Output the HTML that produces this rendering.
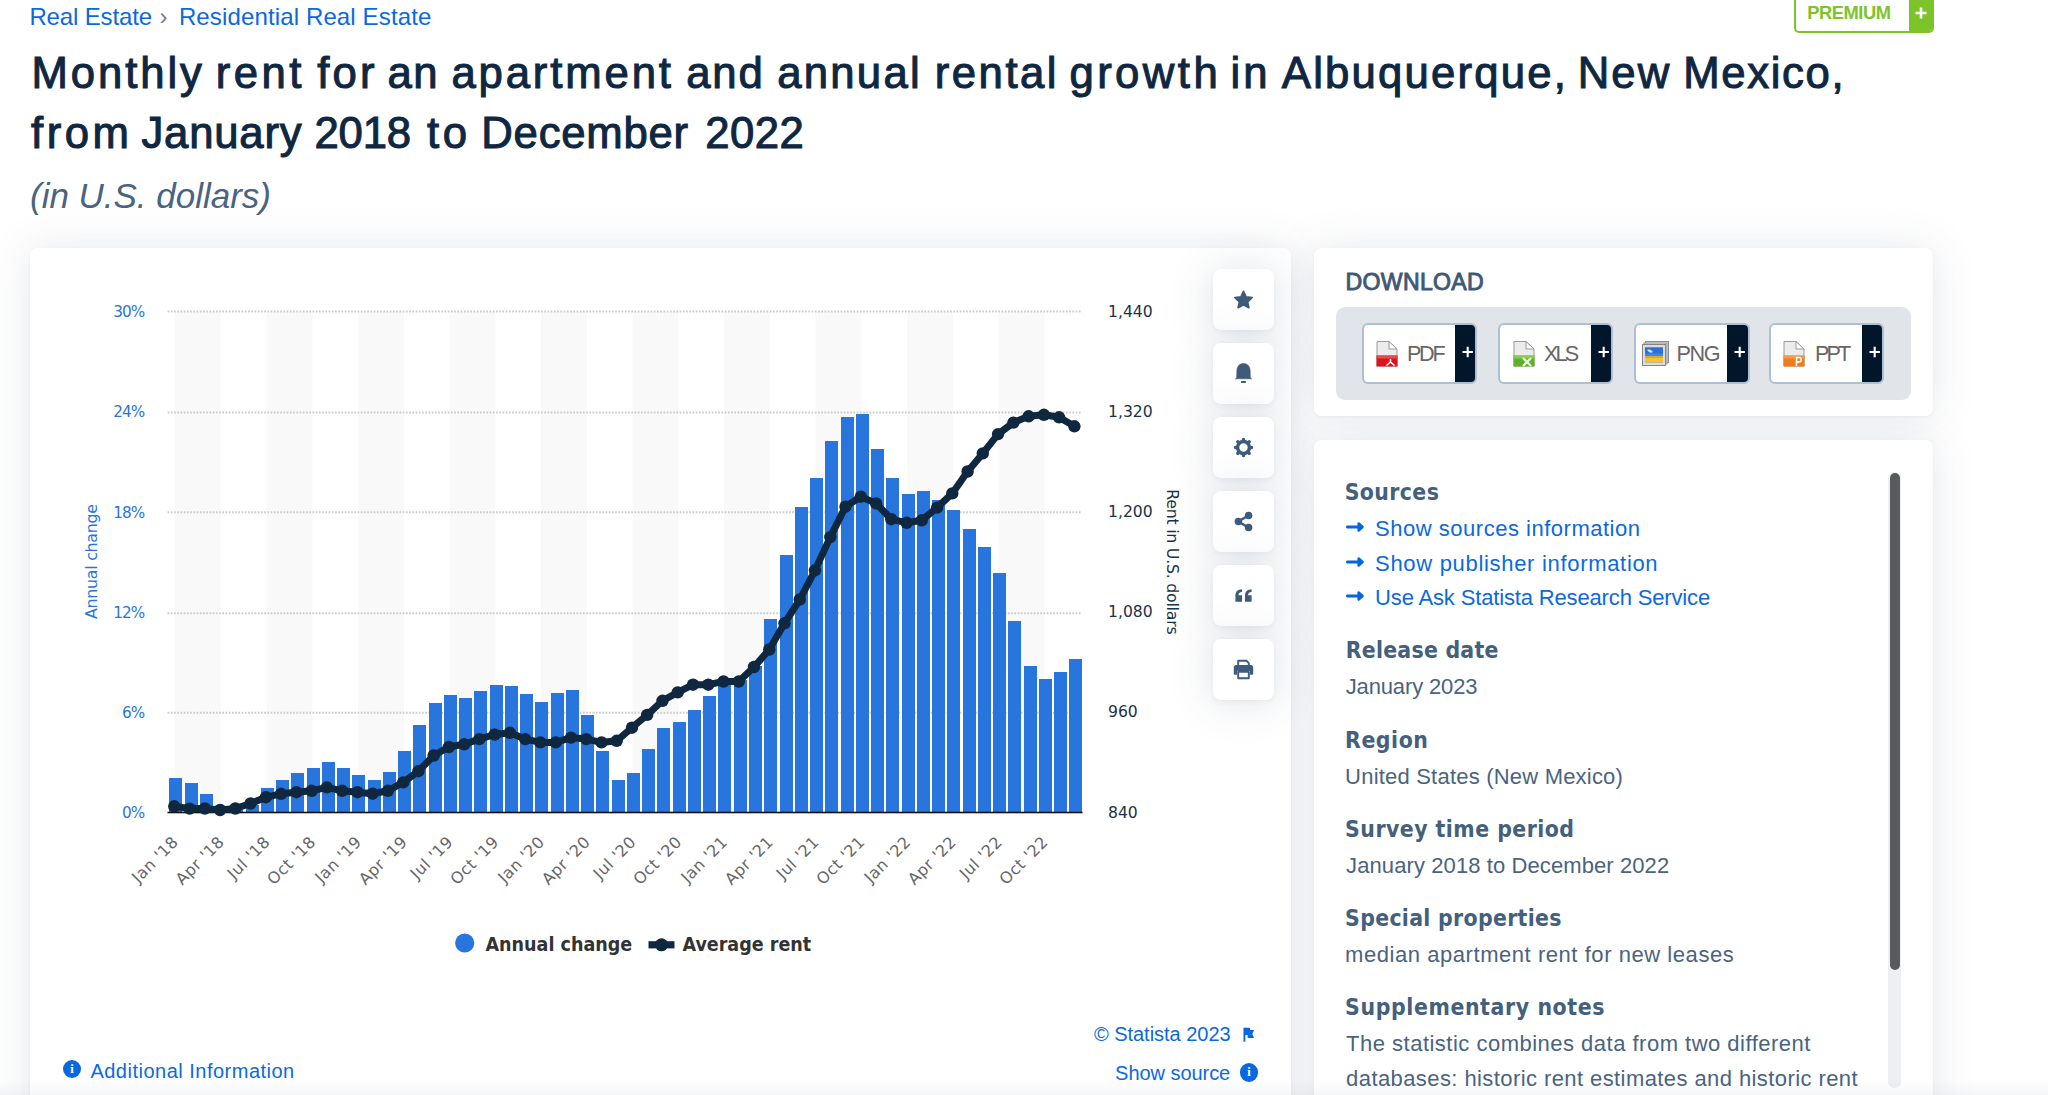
<!DOCTYPE html>
<html lang="en"><head><meta charset="utf-8"><title>Monthly rent for an apartment and annual rental growth in Albuquerque, New Mexico</title>
<style>
*{box-sizing:border-box}
html,body{margin:0;padding:0}
body{width:2048px;height:1095px;overflow:hidden;background:#fff;position:relative;font-family:'Liberation Sans',Arial,sans-serif}
.tw{margin:0;font-weight:400}
.t{position:absolute;margin:0;white-space:nowrap;line-height:1;font-weight:400;text-decoration:none}
.card{position:absolute;background:#fff;border-radius:8px}
.card.sh{box-shadow:0 0 44px rgba(60,80,110,.13),0 1px 3px rgba(60,80,110,.05)}
.chart{position:absolute;left:0;top:0;pointer-events:none}
.premium{position:absolute;left:1793.5px;top:-6px;width:140px;height:38.6px;border:2px solid #7dc42a;border-radius:5px;background:#fff;overflow:hidden}
.premium .ptxt{position:absolute;left:12.2px;top:8.8px;font-size:17.6px;line-height:1;font-weight:700;color:#7dc42a;letter-spacing:.35px}
.premium .pplus{position:absolute;right:-2px;top:4px;width:24.4px;height:33px;background:#7dc42a}
.tb{position:absolute;width:61px;height:61px;border:0;padding:0;border-radius:8px;background:#fff;box-shadow:0 2px 44px rgba(60,80,110,.17),0 2px 5px rgba(60,80,110,.06)}
.tb svg{display:block}
.info-i{position:absolute;width:18.4px;height:18.4px;border-radius:50%;background:#0868e0;color:#fff;font-family:'Liberation Serif',serif;font-weight:700;font-size:12.5px;line-height:19.4px;text-align:center}
.dlpanel{position:absolute;left:1336px;top:306.8px;width:575px;height:93px;border-radius:9px;background:#e1e5e9}
.dlbtn{position:absolute;top:323px;height:60.5px;border:2px solid #adbfd2;border-radius:6px;background:#fff;overflow:hidden}
.dlbtn .ic{position:absolute;top:15px}
.dlbtn .ic svg{display:block}
.dlbtn .lbl{position:absolute;top:20.5px;font-size:20.6px;line-height:1;color:#666}
.dlbtn .plus{position:absolute;right:-1px;top:0;width:21.2px;height:57px;background:#02162b}
.dlbtn .plus svg{display:block}
.strack{position:absolute;left:1888.4px;top:472.4px;width:12.2px;height:615.6px;border-radius:6px;background:#edf0f3}
.sthumb{position:absolute;left:1890px;top:473.4px;width:9.7px;height:496.5px;border-radius:5px;background:#585b5b}
.fade{position:absolute;left:0;top:1080px;width:2048px;height:15px;background:linear-gradient(to bottom,rgba(120,135,155,0),rgba(120,135,155,.075))}
</style></head>
<body>
<nav class="crumbs">
<a class="t " style="left:29.4px;top:5.18px;font-size:24px;color:#0b69e0;letter-spacing:-0.14px;">Real Estate</a>
<span class="t " style="left:159.5px;top:4.68px;font-size:24px;color:#6b7f94;">›</span>
<a class="t " style="left:178.9px;top:5.18px;font-size:24px;color:#0b69e0;letter-spacing:0.135px;">Residential Real Estate</a>
</nav>
<div class="premium"><span class="pplus"><svg width="24" height="31" viewBox="0 0 24 31"><path d="M12 7.5v11M6.5 13h11" stroke="#fff" stroke-width="2.6" fill="none"/></svg></span></div>
<span class="t " style="left:1807.2px;top:3.91px;font-size:18.3px;color:#7dc42a;font-weight:700;letter-spacing:-0.433px;">PREMIUM</span>
<h1 class="tw"> <span id="ta-0" class="t" style="left:31.4px;top:50.91px;font-size:43.7px;color:#0f2741;letter-spacing:2.933px;-webkit-text-stroke:1.05px #0f2741;">Monthly</span> <span id="ta-1" class="t" style="left:215.8px;top:50.91px;font-size:43.7px;color:#0f2741;letter-spacing:3.467px;-webkit-text-stroke:1.05px #0f2741;">rent</span> <span id="ta-2" class="t" style="left:317.2px;top:50.91px;font-size:43.7px;color:#0f2741;letter-spacing:3.2px;-webkit-text-stroke:1.05px #0f2741;">for</span> <span id="ta-3" class="t" style="left:387.4px;top:50.91px;font-size:43.7px;color:#0f2741;letter-spacing:1.6px;-webkit-text-stroke:1.05px #0f2741;">an</span> <span id="ta-4" class="t" style="left:451.4px;top:50.91px;font-size:43.7px;color:#0f2741;letter-spacing:2.862px;-webkit-text-stroke:1.05px #0f2741;">apartment</span> <span id="ta-5" class="t" style="left:686.2px;top:50.91px;font-size:43.7px;color:#0f2741;letter-spacing:1.85px;-webkit-text-stroke:1.05px #0f2741;">and</span> <span id="ta-6" class="t" style="left:777.2px;top:50.91px;font-size:43.7px;color:#0f2741;letter-spacing:2.26px;-webkit-text-stroke:1.05px #0f2741;">annual</span> <span id="ta-7" class="t" style="left:934.7px;top:50.91px;font-size:43.7px;color:#0f2741;letter-spacing:2.52px;-webkit-text-stroke:1.05px #0f2741;">rental</span> <span id="ta-8" class="t" style="left:1069.4px;top:50.91px;font-size:43.7px;color:#0f2741;letter-spacing:3.44px;-webkit-text-stroke:1.05px #0f2741;">growth</span> <span id="ta-9" class="t" style="left:1230.5px;top:50.91px;font-size:43.7px;color:#0f2741;letter-spacing:3.1px;-webkit-text-stroke:1.05px #0f2741;">in</span> <span id="ta-10" class="t" style="left:1281.8px;top:50.91px;font-size:43.7px;color:#0f2741;letter-spacing:2.191px;-webkit-text-stroke:1.05px #0f2741;">Albuquerque,</span> <span id="ta-11" class="t" style="left:1577.7px;top:50.91px;font-size:43.7px;color:#0f2741;letter-spacing:2.1px;-webkit-text-stroke:1.05px #0f2741;">New</span> <span id="ta-12" class="t" style="left:1683.2px;top:50.91px;font-size:43.7px;color:#0f2741;letter-spacing:1.65px;-webkit-text-stroke:1.05px #0f2741;">Mexico,</span> </h1>
<h1 class="tw"> <span id="tb-0" class="t" style="left:31px;top:110.71px;font-size:43.7px;color:#0f2741;letter-spacing:3.533px;-webkit-text-stroke:1.05px #0f2741;">from</span> <span id="tb-1" class="t" style="left:141.4px;top:110.71px;font-size:43.7px;color:#0f2741;letter-spacing:0.8px;-webkit-text-stroke:1.05px #0f2741;">January</span> <span id="tb-2" class="t" style="left:314.6px;top:110.71px;font-size:43.7px;color:#0f2741;letter-spacing:-0.267px;-webkit-text-stroke:1.05px #0f2741;">2018</span> <span id="tb-3" class="t" style="left:427px;top:110.71px;font-size:43.7px;color:#0f2741;letter-spacing:3.5px;-webkit-text-stroke:1.05px #0f2741;">to</span> <span id="tb-4" class="t" style="left:481.3px;top:110.71px;font-size:43.7px;color:#0f2741;letter-spacing:0.757px;-webkit-text-stroke:1.05px #0f2741;">December</span> <span id="tb-5" class="t" style="left:705.3px;top:110.71px;font-size:43.7px;color:#0f2741;letter-spacing:0.4px;-webkit-text-stroke:1.05px #0f2741;">2022</span> </h1>
<h2 class="t " style="left:30px;top:178.37px;font-size:35px;color:#4a6380;letter-spacing:-0.013px;font-style:italic;">(in U.S. dollars)</h2>
<div class="card sh" style="left:29.5px;top:248px;width:1261.8px;height:900px"></div>
<div class="card sh" style="left:1314px;top:248px;width:619.2px;height:168px"></div>
<div class="card sh" style="left:1314px;top:440.2px;width:619.2px;height:720px"></div>
<section class="card" id="chartcard" style="left:29.5px;top:248px;width:1261.8px;height:900px"></section>
<section class="card" id="dlcard" style="left:1314px;top:248px;width:619.2px;height:168px"></section>
<section class="card" id="infocard" style="left:1314px;top:440.2px;width:619.2px;height:720px"></section>
<button class="tb" style="left:1212.5px;top:269px"><svg width="61" height="61" viewBox="-30.5 -30.5 61 61" fill="#3f5b7a"><path d="M0,-8.1 L2.53,-2.58 L8.56,-1.88 L4.09,2.23 L5.29,8.18 L0,5.2 L-5.29,8.18 L-4.09,2.23 L-8.56,-1.88 L-2.53,-2.58Z" stroke="#3f5b7a" stroke-width="1.8" stroke-linejoin="round"/></svg></button>
<button class="tb" style="left:1212.5px;top:343px"><svg width="61" height="61" viewBox="-30.5 -30.5 61 61" fill="#3f5b7a"><path d="M-8.1,5.3 C-7.3,5.3 -6.9,4.3 -6.8,2.8 L-6.6,-3 C-6.5,-7.5 -3.6,-9.9 0,-9.9 C3.6,-9.9 6.5,-7.5 6.6,-3 L6.8,2.8 C6.9,4.3 7.3,5.3 8.1,5.3 Z" stroke="#3f5b7a" stroke-width="0.6" stroke-linejoin="round"/><rect x="-2.6" y="7.6" width="5.2" height="1.9" rx="0.9"/></svg></button>
<button class="tb" style="left:1212.5px;top:417px"><svg width="61" height="61" viewBox="-30.5 -30.5 61 61" fill="#3f5b7a"><circle cx="0" cy="0" r="5.95" fill="none" stroke="#3f5b7a" stroke-width="3.5"/><path d="M0,-7 L0,-8 M4.95,-4.95 L5.66,-5.66 M7,0 L8,0 M4.95,4.95 L5.66,5.66 M0,7 L0,8 M-4.95,4.95 L-5.66,5.66 M-7,0 L-8,0 M-4.95,-4.95 L-5.66,-5.66 " stroke="#3f5b7a" stroke-width="3.5" stroke-linecap="round" fill="none"/></svg></button>
<button class="tb" style="left:1212.5px;top:491px"><svg width="61" height="61" viewBox="-30.5 -30.5 61 61" fill="#3f5b7a"><path d="M5.1,-6.1 L-5.1,0 L5.1,6.1" stroke="#3f5b7a" stroke-width="2.5" fill="none" stroke-linejoin="round"/><circle cx="-5.1" cy="0" r="3.75"/><circle cx="5.1" cy="-6.1" r="3.75"/><circle cx="5.1" cy="6.1" r="3.75"/></svg></button>
<button class="tb" style="left:1212.5px;top:565px"><svg width="61" height="61" viewBox="-30.5 -30.5 61 61" fill="#3f5b7a"><path d="M-8.1,6.2 h6.6 v-6.4 h-3.5 c0,-2.1 1,-3.2 3.5,-3.3 v-2.7 c-4.3,0.1 -6.6,2.4 -6.6,6.3z"/><path d="M1.5,6.2 h6.6 v-6.4 h-3.5 c0,-2.1 1,-3.2 3.5,-3.3 v-2.7 c-4.3,0.1 -6.6,2.4 -6.6,6.3z"/></svg></button>
<button class="tb" style="left:1212.5px;top:639px"><svg width="61" height="61" viewBox="-30.5 -30.5 61 61" fill="#3f5b7a"><path d="M-5.3,-4 v-4.8 h8.2 l2.4,2.4 v2.4" fill="none" stroke="#3f5b7a" stroke-width="1.9" stroke-linejoin="round"/><path d="M-7.2,-4.6 h14.4 a2.5,2.5 0 0 1 2.5,2.5 v6.3 a1,1 0 0 1 -1,1 h-2.3 v-3.7 h-12.8 v3.7 h-2.3 a1,1 0 0 1 -1,-1 v-6.3 a2.5,2.5 0 0 1 2.5,-2.5z"/><path d="M-5.3,2.4 h10.6 v6.4 h-10.6z" fill="none" stroke="#3f5b7a" stroke-width="1.9" stroke-linejoin="round"/></svg></button>
<svg class="chart" width="2048" height="1095" viewBox="0 0 2048 1095">
<rect x="174.9" y="312" width="45.8" height="500" fill="#f9f9f9"/>
<rect x="266.5" y="312" width="45.8" height="500" fill="#f9f9f9"/>
<rect x="358" y="312" width="45.8" height="500" fill="#f9f9f9"/>
<rect x="449.5" y="312" width="45.8" height="500" fill="#f9f9f9"/>
<rect x="541" y="312" width="45.8" height="500" fill="#f9f9f9"/>
<rect x="632.6" y="312" width="45.8" height="500" fill="#f9f9f9"/>
<rect x="724.1" y="312" width="45.8" height="500" fill="#f9f9f9"/>
<rect x="815.6" y="312" width="45.8" height="500" fill="#f9f9f9"/>
<rect x="907.2" y="312" width="45.8" height="500" fill="#f9f9f9"/>
<rect x="998.7" y="312" width="45.8" height="500" fill="#f9f9f9"/>
<line x1="167.6" x2="1082" y1="311.5" y2="311.5" stroke="#cbcbcb" stroke-width="2" stroke-dasharray="1.7 1.52"/>
<line x1="167.6" x2="1082" y1="412.5" y2="412.5" stroke="#cbcbcb" stroke-width="2" stroke-dasharray="1.7 1.52"/>
<line x1="167.6" x2="1082" y1="512.2" y2="512.2" stroke="#cbcbcb" stroke-width="2" stroke-dasharray="1.7 1.52"/>
<line x1="167.6" x2="1082" y1="613.3" y2="613.3" stroke="#cbcbcb" stroke-width="2" stroke-dasharray="1.7 1.52"/>
<line x1="167.6" x2="1082" y1="712.8" y2="712.8" stroke="#cbcbcb" stroke-width="2" stroke-dasharray="1.7 1.52"/>
<g fill="#2875dd" shape-rendering="crispEdges">
<rect x="169" y="778" width="13" height="34"/>
<rect x="185" y="783" width="13" height="29"/>
<rect x="200" y="794" width="13" height="18"/>
<rect x="230" y="810" width="13" height="2"/>
<rect x="246" y="805" width="13" height="7"/>
<rect x="261" y="788" width="13" height="24"/>
<rect x="276" y="780" width="13" height="32"/>
<rect x="291" y="773" width="13" height="39"/>
<rect x="307" y="768" width="13" height="44"/>
<rect x="322" y="762" width="13" height="50"/>
<rect x="337" y="768" width="13" height="44"/>
<rect x="352" y="775" width="13" height="37"/>
<rect x="368" y="780" width="13" height="32"/>
<rect x="383" y="772" width="13" height="40"/>
<rect x="398" y="751" width="13" height="61"/>
<rect x="413" y="725" width="13" height="87"/>
<rect x="429" y="703" width="13" height="109"/>
<rect x="444" y="695" width="13" height="117"/>
<rect x="459" y="698" width="13" height="114"/>
<rect x="474" y="691" width="13" height="121"/>
<rect x="490" y="685" width="13" height="127"/>
<rect x="505" y="686" width="13" height="126"/>
<rect x="520" y="694" width="13" height="118"/>
<rect x="535" y="702" width="13" height="110"/>
<rect x="551" y="693" width="13" height="119"/>
<rect x="566" y="690" width="13" height="122"/>
<rect x="581" y="715" width="13" height="97"/>
<rect x="596" y="751" width="13" height="61"/>
<rect x="612" y="780" width="13" height="32"/>
<rect x="627" y="773" width="13" height="39"/>
<rect x="642" y="749" width="13" height="63"/>
<rect x="657" y="728" width="13" height="84"/>
<rect x="673" y="722" width="13" height="90"/>
<rect x="688" y="710" width="13" height="102"/>
<rect x="703" y="696" width="13" height="116"/>
<rect x="718" y="682" width="13" height="130"/>
<rect x="734" y="680" width="13" height="132"/>
<rect x="749" y="666" width="13" height="146"/>
<rect x="764" y="619" width="13" height="193"/>
<rect x="780" y="555" width="13" height="257"/>
<rect x="795" y="507" width="13" height="305"/>
<rect x="810" y="478" width="13" height="334"/>
<rect x="825" y="441" width="13" height="371"/>
<rect x="841" y="417" width="13" height="395"/>
<rect x="856" y="414" width="13" height="398"/>
<rect x="871" y="449" width="13" height="363"/>
<rect x="886" y="478" width="13" height="334"/>
<rect x="902" y="494" width="13" height="318"/>
<rect x="917" y="491" width="13" height="321"/>
<rect x="932" y="500" width="13" height="312"/>
<rect x="947" y="510" width="13" height="302"/>
<rect x="963" y="529" width="13" height="283"/>
<rect x="978" y="547" width="13" height="265"/>
<rect x="993" y="573" width="13" height="239"/>
<rect x="1008" y="621" width="13" height="191"/>
<rect x="1024" y="666" width="13" height="146"/>
<rect x="1039" y="679" width="13" height="133"/>
<rect x="1054" y="672" width="13" height="140"/>
<rect x="1069" y="659" width="13" height="153"/>
</g>
<rect x="167.5" y="811.7" width="915" height="1.6" fill="#111"/>
<polyline points="174.3,806.3 189.6,808.6 204.8,808.5 220.1,810 235.3,808.5 250.6,803.5 265.9,797.2 281.1,793.8 296.4,792.2 311.6,790.8 326.9,787.4 342.1,790.8 357.4,792.2 372.6,793.7 387.9,790.8 403.2,782.4 418.4,771.2 433.7,755.5 448.9,747 464.2,744.3 479.4,739.1 494.7,734.5 509.9,732.8 525.2,739.1 540.4,742.4 555.7,742.4 571,737.6 586.2,739.1 601.5,742.4 616.7,740.8 632,727.7 647.2,714.9 662.5,700.8 677.7,692.4 693,684.7 708.3,684.7 723.5,681.5 738.8,681.5 754,667 769.3,649.5 784.5,623.3 799.8,599.5 815,570.3 830.3,537.1 845.5,506.6 860.8,496.7 876.1,503.4 891.3,519.2 906.6,522.8 921.8,520.3 937.1,507.6 952.3,493.4 967.6,471.5 982.8,453.4 998.1,434.1 1013.4,422.6 1028.6,416.3 1043.9,414.8 1059.1,417.3 1074.4,426.3" fill="none" stroke="#0f283f" stroke-width="7" stroke-linejoin="round" stroke-linecap="round"/>
<g fill="#0f283f">
<circle cx="174.3" cy="806.3" r="6.2"/>
<circle cx="189.6" cy="808.6" r="6.2"/>
<circle cx="204.8" cy="808.5" r="6.2"/>
<circle cx="220.1" cy="810" r="6.2"/>
<circle cx="235.3" cy="808.5" r="6.2"/>
<circle cx="250.6" cy="803.5" r="6.2"/>
<circle cx="265.9" cy="797.2" r="6.2"/>
<circle cx="281.1" cy="793.8" r="6.2"/>
<circle cx="296.4" cy="792.2" r="6.2"/>
<circle cx="311.6" cy="790.8" r="6.2"/>
<circle cx="326.9" cy="787.4" r="6.2"/>
<circle cx="342.1" cy="790.8" r="6.2"/>
<circle cx="357.4" cy="792.2" r="6.2"/>
<circle cx="372.6" cy="793.7" r="6.2"/>
<circle cx="387.9" cy="790.8" r="6.2"/>
<circle cx="403.2" cy="782.4" r="6.2"/>
<circle cx="418.4" cy="771.2" r="6.2"/>
<circle cx="433.7" cy="755.5" r="6.2"/>
<circle cx="448.9" cy="747" r="6.2"/>
<circle cx="464.2" cy="744.3" r="6.2"/>
<circle cx="479.4" cy="739.1" r="6.2"/>
<circle cx="494.7" cy="734.5" r="6.2"/>
<circle cx="509.9" cy="732.8" r="6.2"/>
<circle cx="525.2" cy="739.1" r="6.2"/>
<circle cx="540.4" cy="742.4" r="6.2"/>
<circle cx="555.7" cy="742.4" r="6.2"/>
<circle cx="571" cy="737.6" r="6.2"/>
<circle cx="586.2" cy="739.1" r="6.2"/>
<circle cx="601.5" cy="742.4" r="6.2"/>
<circle cx="616.7" cy="740.8" r="6.2"/>
<circle cx="632" cy="727.7" r="6.2"/>
<circle cx="647.2" cy="714.9" r="6.2"/>
<circle cx="662.5" cy="700.8" r="6.2"/>
<circle cx="677.7" cy="692.4" r="6.2"/>
<circle cx="693" cy="684.7" r="6.2"/>
<circle cx="708.3" cy="684.7" r="6.2"/>
<circle cx="723.5" cy="681.5" r="6.2"/>
<circle cx="738.8" cy="681.5" r="6.2"/>
<circle cx="754" cy="667" r="6.2"/>
<circle cx="769.3" cy="649.5" r="6.2"/>
<circle cx="784.5" cy="623.3" r="6.2"/>
<circle cx="799.8" cy="599.5" r="6.2"/>
<circle cx="815" cy="570.3" r="6.2"/>
<circle cx="830.3" cy="537.1" r="6.2"/>
<circle cx="845.5" cy="506.6" r="6.2"/>
<circle cx="860.8" cy="496.7" r="6.2"/>
<circle cx="876.1" cy="503.4" r="6.2"/>
<circle cx="891.3" cy="519.2" r="6.2"/>
<circle cx="906.6" cy="522.8" r="6.2"/>
<circle cx="921.8" cy="520.3" r="6.2"/>
<circle cx="937.1" cy="507.6" r="6.2"/>
<circle cx="952.3" cy="493.4" r="6.2"/>
<circle cx="967.6" cy="471.5" r="6.2"/>
<circle cx="982.8" cy="453.4" r="6.2"/>
<circle cx="998.1" cy="434.1" r="6.2"/>
<circle cx="1013.4" cy="422.6" r="6.2"/>
<circle cx="1028.6" cy="416.3" r="6.2"/>
<circle cx="1043.9" cy="414.8" r="6.2"/>
<circle cx="1059.1" cy="417.3" r="6.2"/>
<circle cx="1074.4" cy="426.3" r="6.2"/>
</g>
<text x="144.2" y="317.2" text-anchor="end" fill="#2875dd" font-family="DejaVu Sans, Liberation Sans, sans-serif" font-size="15.2" letter-spacing="-0.9">30%</text>
<text x="144.2" y="417.4" text-anchor="end" fill="#2875dd" font-family="DejaVu Sans, Liberation Sans, sans-serif" font-size="15.2" letter-spacing="-0.9">24%</text>
<text x="144.2" y="517.6" text-anchor="end" fill="#2875dd" font-family="DejaVu Sans, Liberation Sans, sans-serif" font-size="15.2" letter-spacing="-0.9">18%</text>
<text x="144.2" y="617.8" text-anchor="end" fill="#2875dd" font-family="DejaVu Sans, Liberation Sans, sans-serif" font-size="15.2" letter-spacing="-0.9">12%</text>
<text x="144.2" y="718" text-anchor="end" fill="#2875dd" font-family="DejaVu Sans, Liberation Sans, sans-serif" font-size="15.2" letter-spacing="-0.9">6%</text>
<text x="144.2" y="818.2" text-anchor="end" fill="#2875dd" font-family="DejaVu Sans, Liberation Sans, sans-serif" font-size="15.2" letter-spacing="-0.9">0%</text>
<text x="1108" y="316.6" fill="#1b3148" font-family="DejaVu Sans, Liberation Sans, sans-serif" font-size="15.6" letter-spacing="0">1,440</text>
<text x="1108" y="416.8" fill="#1b3148" font-family="DejaVu Sans, Liberation Sans, sans-serif" font-size="15.6" letter-spacing="0">1,320</text>
<text x="1108" y="517" fill="#1b3148" font-family="DejaVu Sans, Liberation Sans, sans-serif" font-size="15.6" letter-spacing="0">1,200</text>
<text x="1108" y="617.2" fill="#1b3148" font-family="DejaVu Sans, Liberation Sans, sans-serif" font-size="15.6" letter-spacing="0">1,080</text>
<text x="1108" y="717.4" fill="#1b3148" font-family="DejaVu Sans, Liberation Sans, sans-serif" font-size="15.6" letter-spacing="0">960</text>
<text x="1108" y="817.6" fill="#1b3148" font-family="DejaVu Sans, Liberation Sans, sans-serif" font-size="15.6" letter-spacing="0">840</text>
<text transform="translate(97.4,561.6) rotate(-90)" text-anchor="middle" fill="#2875dd" font-family="DejaVu Sans, Liberation Sans, sans-serif" font-size="15.8" letter-spacing="-0.25">Annual change</text>
<text transform="translate(1166.5,561.8) rotate(90)" text-anchor="middle" fill="#1b3148" font-family="DejaVu Sans, Liberation Sans, sans-serif" font-size="15.8" letter-spacing="-0.25">Rent in U.S. dollars</text>
<text transform="translate(179.4,842.9) rotate(-45)" text-anchor="end" fill="#666" font-family="DejaVu Sans, Liberation Sans, sans-serif" font-size="16" letter-spacing="0.45">Jan &#39;18</text>
<text transform="translate(225.2,842.9) rotate(-45)" text-anchor="end" fill="#666" font-family="DejaVu Sans, Liberation Sans, sans-serif" font-size="16" letter-spacing="0.45">Apr &#39;18</text>
<text transform="translate(271,842.9) rotate(-45)" text-anchor="end" fill="#666" font-family="DejaVu Sans, Liberation Sans, sans-serif" font-size="16" letter-spacing="0.45">Jul &#39;18</text>
<text transform="translate(316.7,842.9) rotate(-45)" text-anchor="end" fill="#666" font-family="DejaVu Sans, Liberation Sans, sans-serif" font-size="16" letter-spacing="0.45">Oct &#39;18</text>
<text transform="translate(362.5,842.9) rotate(-45)" text-anchor="end" fill="#666" font-family="DejaVu Sans, Liberation Sans, sans-serif" font-size="16" letter-spacing="0.45">Jan &#39;19</text>
<text transform="translate(408.3,842.9) rotate(-45)" text-anchor="end" fill="#666" font-family="DejaVu Sans, Liberation Sans, sans-serif" font-size="16" letter-spacing="0.45">Apr &#39;19</text>
<text transform="translate(454,842.9) rotate(-45)" text-anchor="end" fill="#666" font-family="DejaVu Sans, Liberation Sans, sans-serif" font-size="16" letter-spacing="0.45">Jul &#39;19</text>
<text transform="translate(499.8,842.9) rotate(-45)" text-anchor="end" fill="#666" font-family="DejaVu Sans, Liberation Sans, sans-serif" font-size="16" letter-spacing="0.45">Oct &#39;19</text>
<text transform="translate(545.5,842.9) rotate(-45)" text-anchor="end" fill="#666" font-family="DejaVu Sans, Liberation Sans, sans-serif" font-size="16" letter-spacing="0.45">Jan &#39;20</text>
<text transform="translate(591.3,842.9) rotate(-45)" text-anchor="end" fill="#666" font-family="DejaVu Sans, Liberation Sans, sans-serif" font-size="16" letter-spacing="0.45">Apr &#39;20</text>
<text transform="translate(637.1,842.9) rotate(-45)" text-anchor="end" fill="#666" font-family="DejaVu Sans, Liberation Sans, sans-serif" font-size="16" letter-spacing="0.45">Jul &#39;20</text>
<text transform="translate(682.8,842.9) rotate(-45)" text-anchor="end" fill="#666" font-family="DejaVu Sans, Liberation Sans, sans-serif" font-size="16" letter-spacing="0.45">Oct &#39;20</text>
<text transform="translate(728.6,842.9) rotate(-45)" text-anchor="end" fill="#666" font-family="DejaVu Sans, Liberation Sans, sans-serif" font-size="16" letter-spacing="0.45">Jan &#39;21</text>
<text transform="translate(774.4,842.9) rotate(-45)" text-anchor="end" fill="#666" font-family="DejaVu Sans, Liberation Sans, sans-serif" font-size="16" letter-spacing="0.45">Apr &#39;21</text>
<text transform="translate(820.1,842.9) rotate(-45)" text-anchor="end" fill="#666" font-family="DejaVu Sans, Liberation Sans, sans-serif" font-size="16" letter-spacing="0.45">Jul &#39;21</text>
<text transform="translate(865.9,842.9) rotate(-45)" text-anchor="end" fill="#666" font-family="DejaVu Sans, Liberation Sans, sans-serif" font-size="16" letter-spacing="0.45">Oct &#39;21</text>
<text transform="translate(911.7,842.9) rotate(-45)" text-anchor="end" fill="#666" font-family="DejaVu Sans, Liberation Sans, sans-serif" font-size="16" letter-spacing="0.45">Jan &#39;22</text>
<text transform="translate(957.4,842.9) rotate(-45)" text-anchor="end" fill="#666" font-family="DejaVu Sans, Liberation Sans, sans-serif" font-size="16" letter-spacing="0.45">Apr &#39;22</text>
<text transform="translate(1003.2,842.9) rotate(-45)" text-anchor="end" fill="#666" font-family="DejaVu Sans, Liberation Sans, sans-serif" font-size="16" letter-spacing="0.45">Jul &#39;22</text>
<text transform="translate(1049,842.9) rotate(-45)" text-anchor="end" fill="#666" font-family="DejaVu Sans, Liberation Sans, sans-serif" font-size="16" letter-spacing="0.45">Oct &#39;22</text>
<circle cx="464.7" cy="943" r="9.6" fill="#2875dd"/>
<text x="485.5" y="951" font-family="DejaVu Sans Condensed, DejaVu Sans, Liberation Sans, sans-serif" font-size="19.5" font-weight="700" fill="#333">Annual change</text>
<line x1="648.5" x2="674.5" y1="944.8" y2="944.8" stroke="#0f283f" stroke-width="7.2"/>
<circle cx="661.5" cy="944.8" r="6.5" fill="#0f283f"/>
<text x="682.5" y="951" font-family="DejaVu Sans Condensed, DejaVu Sans, Liberation Sans, sans-serif" font-size="19.5" font-weight="700" fill="#333">Average rent</text>
</svg>
<span class="info-i" style="left:62.9px;top:1060px">i</span>
<a class="t " style="left:90.4px;top:1061.07px;font-size:20px;color:#0b69e0;letter-spacing:0.495px;">Additional Information</a>
<span class="t " style="left:1093.9px;top:1024.37px;font-size:20px;color:#0b69e0;letter-spacing:-0.019px;">© Statista 2023</span>
<svg style="position:absolute;left:1242px;top:1027px" width="14" height="16" viewBox="0 0 14 16"><path d="M2.4,0.8v13.9" stroke="#0868e0" stroke-width="1.9"/><path d="M2.4,0.8 H8 V3 H12.1 L10.3,6.9 L12.1,10.9 H5.6 V8.1 H2.4Z" fill="#0868e0"/></svg>
<a class="t " style="left:1115.1px;top:1062.87px;font-size:20px;color:#0b69e0;letter-spacing:-0.05px;">Show source</a>
<span class="info-i" style="left:1239.7px;top:1063.3px">i</span>
<h3 class="t " style="left:1345.6px;top:271.25px;font-size:23.1px;color:#3f5876;letter-spacing:0.297px;-webkit-text-stroke:0.9px #3f5876;">DOWNLOAD</h3>
<div class="dlpanel"></div>
<div class="dlbtn" style="left:1361.9px;width:115px"><span class="ic" style="left:11.8px;top:15px"><svg width="22" height="27" viewBox="0 0 22 27"><path d="M1,1.5 h12 l8,7.5 v17 h-20z" fill="#ececec" stroke="#9a9a9a" stroke-width="1"/><path d="M13,1.5 v7.5 h8z" fill="#fff" stroke="#9a9a9a" stroke-width="1"/><rect x="0.5" y="15.5" width="21" height="11" fill="#d8141c"/><rect x="0.5" y="15.5" width="21" height="3" fill="#e84a4f"/><path d="M14.5,19 v3 l-4,3.5 M14.5,22 l4,3.5" stroke="#fff" stroke-width="1.6" fill="none"/></svg></span><span class="plus"><svg width="21.2" height="57" viewBox="0 0 21.2 57"><path d="M12.7,21.8 v10.4 M7.5,27 h10.4" stroke="#fff" stroke-width="2.1" fill="none"/></svg></span></div>
<span class="t " style="left:1406.9px;top:342.52px;font-size:21.6px;color:#666;letter-spacing:-2.25px;">PDF</span>
<div class="dlbtn" style="left:1498px;width:114.7px"><span class="ic" style="left:12.8px;top:15px"><svg width="22" height="27" viewBox="0 0 22 27"><path d="M1,1.5 h12 l8,7.5 v17 h-20z" fill="#ececec" stroke="#9a9a9a" stroke-width="1"/><path d="M13,1.5 v7.5 h8z" fill="#fff" stroke="#9a9a9a" stroke-width="1"/><rect x="0.5" y="15.5" width="21" height="11" fill="#5fb12a"/><rect x="0.5" y="15.5" width="21" height="3" fill="#86cc4f"/><path d="M10,18 l8,8 M18,18 l-8,8" stroke="#e8f6d8" stroke-width="2.4" fill="none"/></svg></span><span class="plus"><svg width="21.2" height="57" viewBox="0 0 21.2 57"><path d="M12.7,21.8 v10.4 M7.5,27 h10.4" stroke="#fff" stroke-width="2.1" fill="none"/></svg></span></div>
<span class="t " style="left:1544.1px;top:342.52px;font-size:21.6px;color:#666;letter-spacing:-2.9px;">XLS</span>
<div class="dlbtn" style="left:1633.5px;width:116.1px"><span class="ic" style="left:6.7px;top:16px"><svg width="27" height="26" viewBox="0 0 27 26"><rect x="3.5" y="0.5" width="23" height="21" fill="#e4e4e4" stroke="#8f8f8f"/><rect x="2" y="2" width="23" height="21" fill="#e4e4e4" stroke="#8f8f8f"/><rect x="0.5" y="3.5" width="23" height="21" fill="#dcdcdc" stroke="#858585"/><rect x="3" y="6.5" width="18" height="15" fill="#3b86e0"/><rect x="3" y="6.5" width="18" height="6" fill="#2c6fd6"/><path d="M5,9 q3,-2 6,2 q-3,2 -6,-2z" fill="#cfe3fa"/><rect x="3" y="15.5" width="18" height="6" fill="#f0c33a"/><rect x="3" y="15" width="18" height="2" fill="#d8a92a"/></svg></span><span class="plus"><svg width="21.2" height="57" viewBox="0 0 21.2 57"><path d="M12.7,21.8 v10.4 M7.5,27 h10.4" stroke="#fff" stroke-width="2.1" fill="none"/></svg></span></div>
<span class="t " style="left:1676.4px;top:342.52px;font-size:21.6px;color:#666;letter-spacing:-1.35px;">PNG</span>
<div class="dlbtn" style="left:1769.1px;width:114.6px"><span class="ic" style="left:12.2px;top:15px"><svg width="22" height="27" viewBox="0 0 22 27"><path d="M1,1.5 h12 l8,7.5 v17 h-20z" fill="#ececec" stroke="#9a9a9a" stroke-width="1"/><path d="M13,1.5 v7.5 h8z" fill="#fff" stroke="#9a9a9a" stroke-width="1"/><rect x="0.5" y="15.5" width="21" height="11" fill="#f07d1c"/><rect x="0.5" y="15.5" width="21" height="3" fill="#f59a47"/><path d="M13.5,26 v-8.5 h2.5 a2.2,2.2 0 0 1 0,4.4 h-2.5" stroke="#fff" stroke-width="1.6" fill="none"/></svg></span><span class="plus"><svg width="21.2" height="57" viewBox="0 0 21.2 57"><path d="M12.7,21.8 v10.4 M7.5,27 h10.4" stroke="#fff" stroke-width="2.1" fill="none"/></svg></span></div>
<span class="t " style="left:1815px;top:342.52px;font-size:21.6px;color:#666;letter-spacing:-2.9px;">PPT</span>
<h4 class="t " style="left:1344.7px;top:481.2px;font-size:22.8px;color:#44607c;font-weight:700;letter-spacing:0.386px;font-family:'DejaVu Sans Condensed','DejaVu Sans','Liberation Sans',sans-serif;">Sources</h4>
<svg style="position:absolute;left:1344px;top:520.4px" width="22" height="14" viewBox="0 0 22 14"><path d="M3.4,7 H15" stroke="#0564e1" stroke-width="2.9" stroke-linecap="round"/><path d="M14.6,3.4 L18.6,7 L14.6,10.6Z" fill="#0564e1" stroke="#0564e1" stroke-width="2.4" stroke-linejoin="round"/></svg>
<a class="t " style="left:1375.1px;top:518.18px;font-size:22px;color:#0b69e0;letter-spacing:0.511px;">Show sources information</a>
<svg style="position:absolute;left:1344px;top:554.8px" width="22" height="14" viewBox="0 0 22 14"><path d="M3.4,7 H15" stroke="#0564e1" stroke-width="2.9" stroke-linecap="round"/><path d="M14.6,3.4 L18.6,7 L14.6,10.6Z" fill="#0564e1" stroke="#0564e1" stroke-width="2.4" stroke-linejoin="round"/></svg>
<a class="t " style="left:1375.1px;top:552.58px;font-size:22px;color:#0b69e0;letter-spacing:0.686px;">Show publisher information</a>
<svg style="position:absolute;left:1344px;top:589.1999999999999px" width="22" height="14" viewBox="0 0 22 14"><path d="M3.4,7 H15" stroke="#0564e1" stroke-width="2.9" stroke-linecap="round"/><path d="M14.6,3.4 L18.6,7 L14.6,10.6Z" fill="#0564e1" stroke="#0564e1" stroke-width="2.4" stroke-linejoin="round"/></svg>
<a class="t " style="left:1375.1px;top:586.98px;font-size:22px;color:#0b69e0;letter-spacing:-0.153px;">Use Ask Statista Research Service</a>
<h4 class="t " style="left:1345.7px;top:639px;font-size:22.8px;color:#44607c;font-weight:700;letter-spacing:0.249px;font-family:'DejaVu Sans Condensed','DejaVu Sans','Liberation Sans',sans-serif;">Release date</h4>
<p class="t " style="left:1345.7px;top:676.08px;font-size:22px;color:#4a6380;letter-spacing:-0.138px;">January 2023</p>
<h4 class="t " style="left:1345.1px;top:729px;font-size:22.8px;color:#44607c;font-weight:700;letter-spacing:0.53px;font-family:'DejaVu Sans Condensed','DejaVu Sans','Liberation Sans',sans-serif;">Region</h4>
<p class="t " style="left:1345.1px;top:766.18px;font-size:22px;color:#4a6380;letter-spacing:0.206px;">United States (New Mexico)</p>
<h4 class="t " style="left:1345.1px;top:818.1px;font-size:22.8px;color:#44607c;font-weight:700;letter-spacing:0.459px;font-family:'DejaVu Sans Condensed','DejaVu Sans','Liberation Sans',sans-serif;">Survey time period</h4>
<p class="t " style="left:1346.1px;top:855.08px;font-size:22px;color:#4a6380;letter-spacing:0.094px;">January 2018 to December 2022</p>
<h4 class="t " style="left:1345.1px;top:906.9px;font-size:22.8px;color:#44607c;font-weight:700;letter-spacing:0.309px;font-family:'DejaVu Sans Condensed','DejaVu Sans','Liberation Sans',sans-serif;">Special properties</h4>
<p class="t " style="left:1345.1px;top:943.88px;font-size:22px;color:#4a6380;letter-spacing:0.552px;">median apartment rent for new leases</p>
<h4 class="t " style="left:1345.1px;top:996.1px;font-size:22.8px;color:#44607c;font-weight:700;letter-spacing:0.606px;font-family:'DejaVu Sans Condensed','DejaVu Sans','Liberation Sans',sans-serif;">Supplementary notes</h4>
<p class="t " style="left:1346.1px;top:1033.48px;font-size:22px;color:#4a6380;letter-spacing:0.49px;">The statistic combines data from two different</p>
<p class="t " style="left:1346.1px;top:1067.88px;font-size:22px;color:#4a6380;letter-spacing:0.414px;">databases: historic rent estimates and historic rent</p>
<div class="strack"></div><div class="sthumb"></div>
<div class="fade"></div>
</body></html>
